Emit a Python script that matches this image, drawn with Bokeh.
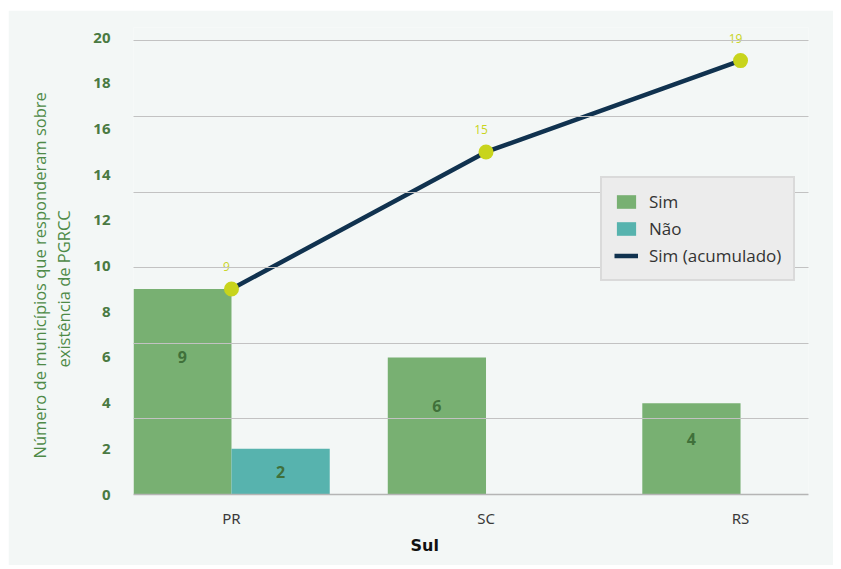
from bokeh.plotting import figure
from bokeh.models import (FixedTicker, Range1d, Legend, LegendItem, Title,
                          ColumnDataSource)
from bokeh.core.properties import value
from bokeh.embed import file_html
from bokeh.resources import INLINE

# ---- data ----
states = ["PR", "SC", "RS"]
sim = [9, 6, 4]
nao = [2, 0, 0]
sim_acum = [9, 15, 19]
y_ticks = [0, 2, 4, 6, 8, 10, 12, 14, 16, 18, 20]
grid_ticks = [0, 3.31, 6.62, 9.93, 13.24, 16.56, 19.87]
y_title_lines = ["Número de municípios que responderam sobre", "existência de PGRCC"]
x_title = "Sul"

GREEN = "#78b072"
TEAL = "#57b3ae"
NAVY = "#10324f"
LIME = "#c8d41c"
BG = "#f3f7f6"
FONT = "Open Sans"

xs = list(range(len(states)))
bw = 0.386

p = figure(width=825, height=555, output_backend="svg", toolbar_location=None,
           x_range=Range1d(-0.385, 2.267), y_range=Range1d(0, 20.45),
           min_border_left=125, min_border_right=25, min_border_top=17,
           min_border_bottom=71)
p.margin = (10, 0, 0, 8)
p.background_fill_color = BG
p.border_fill_color = BG
p.outline_line_color = None

src_sim = ColumnDataSource(dict(x=[x - bw / 2 for x in xs], top=sim,
                                ly=[0.72 * v - 0.44 for v in sim],
                                t=[str(v) for v in sim]))
src_nao = ColumnDataSource(dict(x=[x + bw / 2 for x in xs], top=nao,
                                ly=[0.72 * v - 0.44 for v in nao],
                                t=[str(v) if v else "" for v in nao]))
r_sim = p.vbar(x="x", top="top", width=bw, bottom=0, source=src_sim,
               fill_color=GREEN, line_color=None)
r_nao = p.vbar(x="x", top="top", width=bw, bottom=0, source=src_nao,
               fill_color=TEAL, line_color=None)
for s in (src_sim, src_nao):
    p.text(x="x", y="ly", text="t", source=s, text_align="center",
           text_baseline="middle", text_font=value(FONT),
           text_font_size="16px", text_font_style="bold",
           text_color="#40703a")

src_line = ColumnDataSource(dict(x=xs, y=sim_acum, t=[str(v) for v in sim_acum]))
r_line = p.line(x="x", y="y", source=src_line, line_color=NAVY, line_width=4.5)
p.scatter(x="x", y="y", source=src_line, size=15, fill_color=LIME,
          line_color=None)
p.text(x="x", y="y", text="t", source=src_line, text_align="center",
       text_baseline="middle", x_offset=-5, y_offset=-22,
       text_font=value(FONT), text_font_size="12px", text_color=LIME)

# axes
p.xaxis.ticker = FixedTicker(ticks=xs)
p.xaxis.major_label_overrides = {i: s for i, s in enumerate(states)}
p.xaxis.major_tick_line_color = None
p.xaxis.minor_tick_line_color = None
p.xaxis.axis_line_color = "#b5b5b5"
p.xaxis.axis_line_width = 1.5
p.xaxis.major_label_text_font = "Noto Sans"
p.xaxis.major_label_text_font_size = "15px"
p.xaxis.major_label_text_font_style = "normal"
p.xaxis.major_label_text_color = "#3a3a3a"
p.xaxis.major_label_standoff = 7

p.yaxis.ticker = FixedTicker(ticks=y_ticks)
p.yaxis.major_tick_line_color = None
p.yaxis.minor_tick_line_color = None
p.yaxis.axis_line_color = None
p.yaxis.major_label_text_font = FONT
p.yaxis.major_label_text_font_size = "15px"
p.yaxis.major_label_text_font_style = "bold"
p.yaxis.major_label_text_color = "#4a7a42"
p.yaxis.major_label_standoff = 17

# y title: two centred lines (inner line first)
for txt, off, so in ((y_title_lines[1], 127, 32), (y_title_lines[0], 36, -34)):
    p.add_layout(Title(text=txt, align="left", offset=off, text_font=FONT,
                       text_font_size="16.5px", text_font_style="normal",
                       text_color="#4e8a47", standoff=so), "left")

p.add_layout(Title(text=x_title, align="left", offset=277, text_font="DejaVu Sans",
                   text_font_size="16px", text_font_style="bold",
                   text_color="#111111", standoff=6), "below")

p.xgrid.grid_line_color = None
p.ygrid.ticker = FixedTicker(ticks=grid_ticks)
p.ygrid.grid_line_color = "#c2c2c2"
p.ygrid.grid_line_width = 1
p.ygrid.level = "overlay"

legend = Legend(items=[LegendItem(label="Sim", renderers=[r_sim]),
                       LegendItem(label="Não", renderers=[r_nao]),
                       LegendItem(label="Sim (acumulado)", renderers=[r_line])],
                location=(467, 213))
legend.background_fill_color = "#ececec"
legend.background_fill_alpha = 1
legend.border_line_color = "#c8c8c8"
legend.border_line_width = 2
legend.label_text_font = FONT
legend.label_text_font_size = "17px"
legend.label_text_color = "#333333"
legend.glyph_width = 24
legend.glyph_height = 17
legend.label_standoff = 11
legend.spacing = 4
legend.padding = 12
legend.margin = 0
p.add_layout(legend, "center")

open("out.html", "w").write(file_html(p, INLINE))
